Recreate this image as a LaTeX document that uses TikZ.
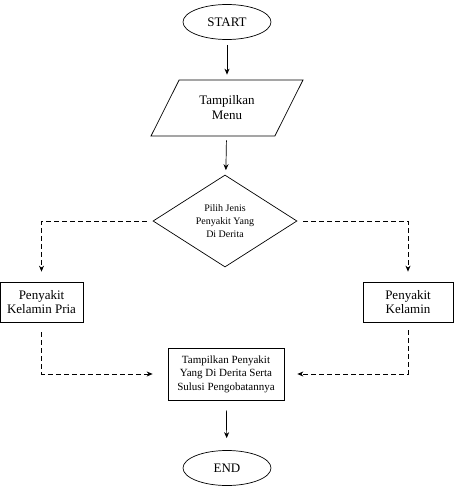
\documentclass[tikz,border=0pt]{standalone}
\usepackage{fontspec}
\setmainfont{Liberation Serif}
\usetikzlibrary{positioning, arrows.meta, calc, shapes.geometric}

\tikzset{
  terminal/.style={draw, ellipse, minimum width=88pt, minimum height=35pt, inner sep=0pt, font=\fontsize{13}{15}\selectfont},
  io/.style={draw, trapezium, trapezium left angle=56, trapezium right angle=124, trapezium stretches=true, minimum width=153pt, minimum height=56pt, inner sep=0pt, align=center, font=\fontsize{13}{15}\selectfont},
  choice/.style={draw, diamond, minimum width=144pt, minimum height=92pt, inner sep=0pt, shape aspect=1.6, align=center, font=\fontsize{10}{13}\selectfont},
  process/.style={draw, rectangle, inner sep=0pt, align=center},
  arr/.style={-{Stealth[length=6pt,width=5pt]}, line width=0.7pt},
  dline/.style={-{Stealth[length=6pt,width=5pt]}, line width=0.7pt, dash pattern=on 5pt off 3pt}
}

\begin{document}
\begin{tikzpicture}[x=1pt, y=-1pt, line width=0.7pt]
\useasboundingbox (0,0) rectangle (454,490);

\node[terminal] (start) at (227, 22) {START};
\node[io] (menu) at (227, 108) {Tampilkan\\Menu};
\node[choice] (pilih) at (225, 221) {Pilih Jenis\\Penyakit Yang\\Di Derita};
\node[process, minimum width=83pt, minimum height=40pt, font=\fontsize{13}{14}\selectfont] (pria) at (41.5, 302) {Penyakit\\Kelamin Pria};
\node[process, minimum width=90pt, minimum height=40pt, font=\fontsize{13}{14}\selectfont] (wanita) at (408, 302) {Penyakit\\Kelamin};
\node[process, minimum width=116pt, minimum height=52pt, font=\fontsize{11}{13.5}\selectfont] (hasil) at (226, 374) {Tampilkan Penyakit\\Yang Di Derita Serta\\Sulusi Pengobatannya};
\node[terminal] (end) at (227, 468) {END};

\draw[arr, shorten <=5pt, shorten >=5pt] (start) -- (menu);
\draw[arr, shorten <=4pt, shorten >=5pt] (menu) -- (pilih);
\draw[dline, shorten <=6pt, shorten >=10pt] (pilih.west) -| (pria.north);
\draw[dline, shorten <=6pt, shorten >=10pt] (pilih.east) -| (wanita.north);
\draw[dline, shorten <=10pt, shorten >=15pt] (pria.south) |- (hasil.west);
\draw[dline, shorten <=8pt, shorten >=13pt] (wanita.south) |- (hasil.east);
\draw[arr, shorten <=10pt, shorten >=12pt] (hasil) -- (end);
\end{tikzpicture}
\end{document}
